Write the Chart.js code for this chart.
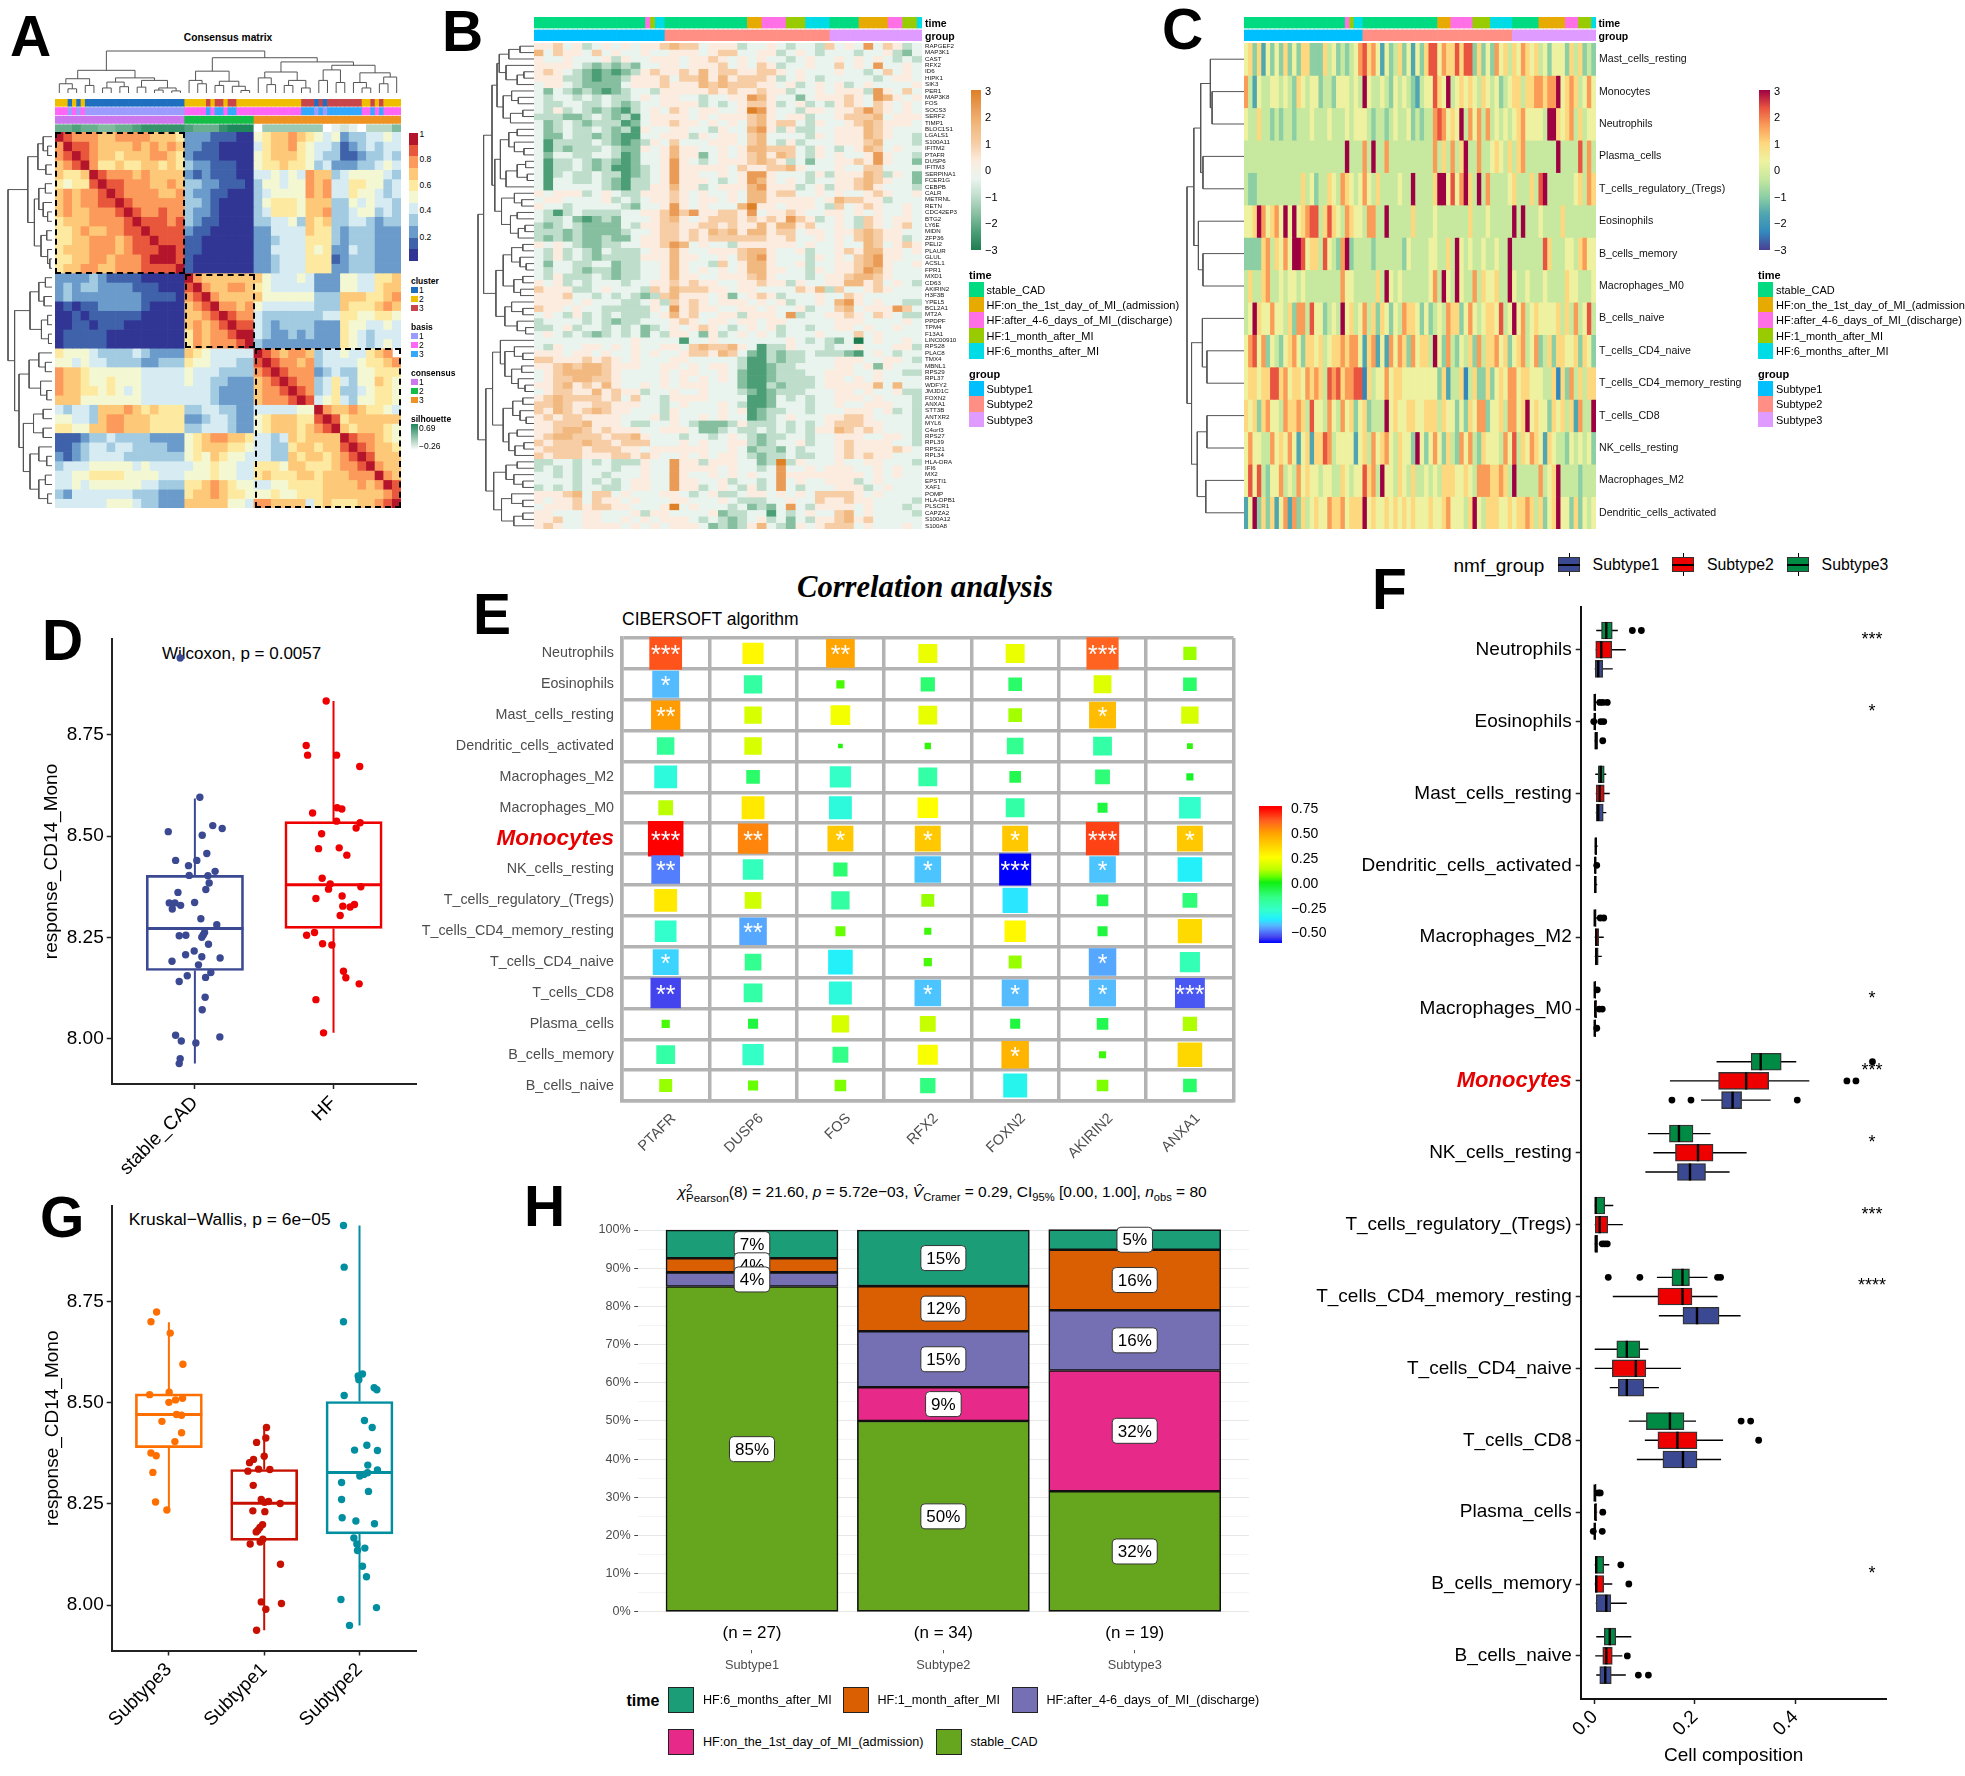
<!DOCTYPE html>
<html>
<head>
<meta charset="utf-8">
<title>Multi panel figure</title>
<script src="https://cdn.jsdelivr.net/npm/chart.js@4"></script>
<style>
html, body { margin: 0; padding: 0; background: #fff; width: 1965px; height: 1776px; overflow: hidden; }
#page { position: relative; width: 1965px; height: 1776px; font-family: "Liberation Sans", Arial, sans-serif; color: #000; }
#page canvas { position: absolute; }
.t { position: absolute; white-space: nowrap; transform: translateY(-50%); line-height: 1; }
.s { position: absolute; }
sub, sup { font-size: 72%; line-height: 0; }
</style>
</head>
<body>
<div id="page"></div>
<script>
// ---------- shared categories ----------
const timeNames = ['stable_CAD', 'HF:on_the_1st_day_of_MI_(admission)', 'HF:after_4-6_days_of_MI_(discharge)', 'HF:1_month_after_MI', 'HF:6_months_after_MI'];
const groupNames = ['Subtype1', 'Subtype2', 'Subtype3'];

// ---------- panel A: consensus matrix, one digit per cell ----------
const consensusRows = [
  'a98887788887776 22211100 56778765452334454',
  '8a9987777878787 22110000 46778654431234344',
  '89a987767778876 21110000 56777654331123343',
  '789a86676677676 32211100 56676653422233454',
  '7667a9888787777 21211100 44545487734555543',
  '65669a998887787 33221110 35545587844665534',
  '787889a98888778 32211000 34555587844655434',
  '7878899a9888888 33210000 35666577733545443',
  '78778889a988988 32210000 34666577833455343',
  '677788889a99989 32110000 33445376733443233',
  '6678778899a9999 21100000 22444476632333222',
  '66778887899a999 11000000 22344466632333222',
  '677788878999aa9 11000000 22444465622433222',
  '66778878889aaa9 10000000 22344466612333222',
  '67788778889999a 10000000 22344466622333222',
  '222232111100000 a8777777 75444542225544667',
  '232332222111000 9a877887 65444442225544677',
  '232222222211110 89a87777 75555553337776678',
  '010112222210000 789a8878 54444443337666787',
  '001011111100000 7789a988 43333333446655665',
  '001101110000000 78789a99 43233332226554454',
  '011111000000000 687889aa 43223232226543444',
  '011111000000000 6878889a 32222222226543454',
  '655543333432222 76544444 a987887344544678',
  '554544333322333 65544433 9a9887834444 56678',
  '877655555544444 54443333 89a988823433 55666',
  '877655655544444 54433222 789a98834643 55765',
  '877665654544444 44432222 7889a9834633 45665',
  '777555555544444 44432222 78889a945643 55665',
  '434437778767666 33443322 4444455a8778 76654',
  '554437887776666 22344322 56777669a967 77777',
  '665577887776666 33444322 567776789a76 77765',
  '111233433332222 56788776 44347677 77a98 8765',
  '112344344333322 56777665 44336776 779a9 8776',
  '212344443333333 56576554 44337677 6789a 9777',
  '344455555454444 45565544 66657766 67889 a877',
  '445566665555444 55565544 67666776 77788 8a87',
  '445455555544333 66787655 44556666 77778 78a9',
  '324444444333222 67787665 55655666 77777 7789a',
  '444444555433222 77777554 88777746 76667 789a'
];
const consensusColours = ['#313695', '#3F62AB', '#6A9BCB', '#A2CBE2', '#D6EBF2', '#F4F8D2', '#FEE9A0', '#FDC878', '#FB9A5A', '#E8573C', '#B5152A'];
const clusterRuns = [3, 1, 1, 1, 1, 23, 5, 1, 1, 2, 1, 2, 15, 3, 1, 1, 1, 8, 2, 1, 1, 1, 4];
const clusterOrder = [1, 0, 1, 0, 1, 0, 1, 2, 1, 2, 1, 2, 1, 2, 0, 2, 0, 2, 1, 2, 1, 2, 1];
const clusterColours = ['#1F6FC0', '#EFBE00', '#C8464A'];
const basisColours = ['#9C9CFF', '#FF66F5', '#33A8FF'];
const consensusRuns = [30, 16, 34];
const consensusTrackColours = ['#CC77EE', '#14BE46', '#EE9322'];
const silhouetteCells = '667665566788888 76668999 04444444012103335';
const silhouetteColours = ['#FFFFFF', '#E6F0EA', '#CFE3D9', '#B6D6C6', '#9CC9B3', '#80BBA0', '#68AE8F', '#4FA07D', '#36926B', '#1E875C'];
const consensusTicks = ['1', '0.8', '0.6', '0.4', '0.2'];

// dendrograms as nested merges: [height, left, right], 0 is a leaf
const consensusTopLeft = [.54, [.34, [.22, 0, [.1, 0, 0]], [.18, 0, 0]], [.36, [.26, [.12, 0, 0], [.15, 0, 0]], [.3, [.14, 0, 0], [.12, [.07, 0, 0], [.05, 0, 0]]]]];
const consensusTopMid = [.52, [.3, 0, [.22, 0, 0]], [.28, [.18, 0, 0], [.16, 0, [.06, 0, 0]]]];
const consensusTopRight = [.74, [.5, [.36, 0, [.2, 0, 0]], [.3, [.18, 0, 0], [.12, 0, 0]]], [.66, [.55, [.3, 0, 0], [.25, 0, 0]], [.48, [.25, 0, [.12, 0, 0]], [.38, [.22, 0, 0], 0]]]];
const consensusTopTree = [1, consensusTopLeft, [.84, consensusTopMid, consensusTopRight]];
const consensusSide1 = [.55, [.32, [.2, 0, [.1, 0, 0]], [.14, 0, 0]], [.4, [.3, [.15, 0, 0], [.2, 0, [.1, 0, 0]]], [.25, [.12, 0, 0], [.1, 0, [.05, 0, 0]]]]];
const consensusSide2 = [.5, [.3, [.15, 0, 0], [.18, 0, 0]], [.24, [.1, 0, 0], [.08, 0, 0]]];
const consensusSide3 = [.75, [.52, [.3, 0, [.15, 0, 0]], [.26, 0, [.12, 0, 0]]], [.65, [.42, [.2, 0, 0], [.2, 0, 0]], [.5, [.3, 0, [.12, 0, 0]], [.3, [.15, 0, 0], [.1, 0, 0]]]]];
const consensusSideTree = [1, consensusSide1, [.85, consensusSide2, consensusSide3]];

// ---------- panels B and C: annotation tracks ----------
const timeRuns = [23, 1, 1, 2, 17, 3, 5, 4, 5, 6, 6, 3, 3, 1];
const timeRunKinds = [0, 2, 3, 4, 0, 1, 2, 3, 4, 0, 1, 2, 3, 4];
const groupRuns = [27, 34, 19];
const timeColours = ['#00DB82', '#E6AA00', '#FF6FE6', '#99CC00', '#00DCE6'];
const groupColours = ['#00BFFF', '#FF8F84', '#DF9BFF'];

// ---------- panel B: expression heatmap, one digit per cell ----------
const geneNames = ['RAPGEF2', 'MAP3K1', 'CAST', 'RFX2', 'ID6', 'HIPK1', 'SIK3', 'PER1', 'MAP3K8', 'FOS', 'SOCS3', 'SERF2', 'TIMP1', 'BLOC1S1', 'LGALS1', 'S100A11', 'IFITM2', 'PTAFR', 'DUSP6', 'IFITM3', 'SERPINA1', 'FCER1G', 'CEBPB', 'CALR', 'METRNL', 'RETN', 'CDC42EP3', 'BTG2', 'LY6E', 'MIDN', 'ZFP36', 'PELI2', 'PLAUR', 'GLUL', 'ACSL1', 'FPR1', 'MXD1', 'CD63', 'AKIRIN2', 'H3F3B', 'YPEL5', 'BCL2A1', 'MT2A', 'PPDPF', 'TPM4', 'F13A1', 'LINC00910', 'RPS28', 'PLAC8', 'TMX4', 'MBNL1', 'RPS29', 'RPL37', 'WDFY2', 'JMJD1C', 'FOXN2', 'ANXA1', 'STT3B', 'ANTXR2', 'MYL6', 'C4orf3', 'RPS27', 'RPL39', 'RPS21', 'RPL34', 'HLA-DRA', 'IFI6', 'MX2', 'EPSTI1', 'XAF1', 'POMP', 'HLA-DPB1', 'PLSCR1', 'CAPZA2', 'S100A12', 'S100A8'];
const expressionRows = [
  '55645345454556 76645553445434436 454846534',
  '74655464544544 55545664455345434 443445324',
  '54454445354455 54556545454434544 545454343',
  '55554323232445 54555645465344544 645484454',
  '56543212123565 56575665566545444 544346454',
  '55533212235556 46675756665345434 444434554',
  '45543222245556 55576766655453454 534544445',
  '42432321234435 55556565565534454 555385464',
  '43443434334545 54434455875442455 565487545',
  '43344334323445 55534345665345343 565465454',
  '43534323213454 65455445985443554 556865454',
  '33322343231455 55454555675455344 566674555',
  '42343233312455 65545454675664354 456765554',
  '42343343231544 55443544785353344 555765444',
  '42243323211445 55354554674444354 555765443',
  '41333343212354 64445554674353444 555674443',
  '41323334322545 75544545776664354 345764544',
  '42443344312445 75524545675764354 544585443',
  '41334323212445 85434555676534244 556585442',
  '41334323112345 85555546556675444 544664444',
  '41343343312345 85544545885444353 555763542',
  '41443343213345 85554345875454344 556765442',
  '41444443213355 75534555785553453 556754443',
  '54555345433555 65454454775664454 544565445',
  '45544445343455 65455454775555545 766553444',
  '54434444432445 85454447955455543 645654454',
  '43134333344556 86855665845565445 545454454',
  '43342123244456 75456665656586534 543654554',
  '32343222243556 65566565575775644 543654564',
  '33323222234456 65657675775664554 556765544',
  '32323223224556 65656666665564454 546765534',
  '54543223344556 87454435555554544 544764565',
  '43534324333455 75445556775445344 565775545',
  '43534323333555 75544546785444354 546785544',
  '42443344233445 75443645775445344 556785445',
  '43443233233445 75454545775544354 556875444',
  '43533343233445 75544555675444345 567765444',
  '54534344434455 65655445565535445 577564543',
  '65553345444365 76665545544446573 644565444',
  '55564434343236 75554524565344454 465444444',
  '55554544433453 65654555454534454 785454433',
  '65545443333354 85655445545445344 674555864',
  '45435343433345 75644553555483445 565465433',
  '34444343233444 56545545545544444 555444454',
  '33453443434234 54565434545344344 554544544',
  '45434323434243 55425345454344454 446454444',
  '44444444445444 41445444444454343 240454454',
  '43544554545445 54676675413354443 445444553',
  '55545545445454 45665764213233433 321454344',
  '66555656545444 55444443113233444 555445543',
  '55676776555445 54545543112334444 554525444',
  '45677776544445 45544542112333445 554454433',
  '45667766544445 45454542112333345 545454444',
  '55675657544545 45554442113233345 555574744',
  '45665575655344 54454443212333444 554544533',
  '56766665646443 55554444112434344 555454443',
  '66765566555443 45444543112444344 544555443',
  '65765676554443 54444545123344344 455545343',
  '56566555544453 54454544123454445 566544443',
  '55666755543344 54322235333434345 666554443',
  '55677656555445 55422343343434355 765654443',
  '56776665667544 43443454323344344 555445543',
  '65666766566644 45454455323445344 565555443',
  '56666566655455 55554454233243444 565555654',
  '65666555665654 45454554323343344 565655444',
  '33443434333544 85535554423935444 544554443',
  '34343444344544 85555454434844545 554454544',
  '44343443444544 85445454544855555 555454544',
  '44443434345544 85544534434845445 553454444',
  '34343443345544 85534543534843444 555345444',
  '55567466454445 54345334554545466 665454444',
  '54556465545444 55444543334454465 565544443',
  '45556566554445 94544434232484355 554544434',
  '55444554445355 44445233441434544 674544443',
  '55644554454545 55434323453424355 675644444',
  '56544555545454 55542323574325456 664544454'
];
const expressionColours = ['#1E7D50', '#4C9E76', '#86BFA0', '#BEDDCB', '#EAF4EE', '#FBECDF', '#F6CDA4', '#F1B97F', '#EA9C57', '#DD8026'];
const expressionTicks = ['3', '2', '1', '0', '\u22121', '\u22122', '\u22123'];
const expressionTree1 = [.62, [.45, [.25, 0, 0], 0], [.5, 0, [.3, [.18, 0, 0], 0]]];
const expressionTree2 = [.55, [.4, 0, [.28, 0, 0]], [.42, [.2, 0, 0], 0]];
const expressionTree3 = [.6, [.45, [.3, 0, 0], [.35, 0, [.18, 0, 0]]], [.5, [.3, [.15, 0, 0], [.12, 0, 0]], 0]];
const expressionTree4 = [.58, [.35, 0, [.22, 0, 0]], [.42, [.3, 0, 0], [.28, [.16, 0, 0], 0]]];
const expressionTree5 = [.68, [.55, [.4, [.2, 0, 0], [.25, 0, [.14, 0, 0]]], [.36, [.2, 0, 0], [.24, 0, 0]]], [.52, [.4, 0, [.2, 0, 0]], [.3, 0, [.15, 0, 0]]]];
const expressionTree6 = [.74, [.6, 0, [.52, [.35, 0, [.2, 0, 0]], [.4, [.22, 0, 0], [.28, 0, [.16, 0, 0]]]]], [.55, [.38, [.2, 0, 0], [.25, 0, [.14, 0, 0]]], [.45, [.3, 0, 0], [.34, [.18, 0, 0], 0]]]];
const expressionTree7 = [.72, [.5, [.3, 0, 0], [.36, 0, [.2, 0, 0]]], [.58, [.4, 0, [.2, 0, 0]], [.36, [.2, 0, 0], 0]]];
const expressionTree = [1, [.9, [.75, [.66, expressionTree1, expressionTree2], [.7, expressionTree3, expressionTree4]], expressionTree5], [.86, expressionTree6, expressionTree7]];

// ---------- panel C: immune cell heatmap, one digit per sample ----------
const immuneCells = ['Mast_cells_resting', 'Monocytes', 'Neutrophils', 'Plasma_cells', 'T_cells_regulatory_(Tregs)', 'Eosinophils', 'B_cells_memory', 'Macrophages_M0', 'B_cells_naive', 'T_cells_CD4_naive', 'T_cells_CD4_memory_resting', 'T_cells_CD8', 'NK_cells_resting', 'Macrophages_M2', 'Dendritic_cells_activated'];
const immuneRows = [
  '56362535 36353663 33645343 45786752 53463525 36885766 86883635 37564657 65645355 53646343',
  '74254455 45436545 53443555 45495445 43545432 45586594 56565465 45345664 66776779 56764575',
  '54464434 34434445 44454445 45554344 34544534 34478756 59475747 45454567 55554996 56746455',
  '44444444 44444444 44444449 44474944 74444444 44474647 46944744 56546467 44444449 44448474',
  '43344444 44444645 34465476 54575464 44454494 44469958 57964947 44445644 46489444 44456476',
  '55697567 59595678 84686547 65547744 94444464 44454444 44464445 44444949 44454444 64444444',
  '33336746 57599856 64854379 34444344 44443544 44554464 95454454 45449444 44448644 45546755',
  '46446744 54554544 44444475 54444464 95454444 44574954 95447465 56449544 54445444 46554445',
  '45965575 54637748 55345495 64574636 53547665 35345476 63575456 65845957 45655556 46474584',
  '57857354 35675366 56456676 77526725 27576375 66495374 35463746 67563567 45734636 65563653',
  '56656688 67566576 76487867 78816455 75665555 55553624 46146336 35657756 65554461 63746466',
  '65636755 47667648 55475475 63563444 95655665 56664655 35365773 55647756 95655365 64627449',
  '57554475 65752562 66874555 52564756 75465539 53575364 37574365 55475846 57652654 43545453',
  '58584355 74547565 54554465 45586749 55465464 45454666 55654777 66764944 44474569 44443444',
  '25936362 57273645 65576675 66695655 65656565 55655675 55469546 66556566 76463569 55363545'
];
const immuneColours = ['#4B3F92', '#3288BD', '#4FA5B0', '#8CCFA4', '#C7E89F', '#EEF2A0', '#FDD87F', '#FA9C58', '#E8543F', '#9E0142'];
const immuneTree = [1, [.88, [.76, [.59, 0, [.56, 0, 0]], [.72, 0, 0]], [.8, 0, [.72, 0, 0]]], [.92, [.73, 0, [.65, 0, 0]], [.82, [.65, 0, 0], [.67, 0, 0]]]];

// ---------- panel D ----------
const dCats = ['stable_CAD', 'HF'];
const dStableX = [.894, 1.036, .808, 1.053, 1.129, 1.197, .861, 1.014, 1.086, .954, .959, 1.094, 1.146, 1.103, 1.079, .878, .815, .856, .897, .837, .998, 1.043, 1.158, .887, .935, 1.07, 1.06, 1.05, 1.098, .995, .933, 1.05, 1.182, .835, 1.026, 1.115, 1.077, .945, .887, 1.074, 1.053, .861, .902, 1.007, 1.18, .894, .887];
const dStableY = [8.94, 8.596, 8.511, 8.502, 8.526, 8.519, 8.44, 8.44, 8.457, 8.427, 8.403, 8.402, 8.413, 8.384, 8.368, 8.361, 8.335, 8.335, 8.329, 8.32, 8.336, 8.296, 8.281, 8.254, 8.255, 8.262, 8.256, 8.25, 8.233, 8.216, 8.207, 8.202, 8.199, 8.191, 8.182, 8.163, 8.151, 8.155, 8.141, 8.102, 8.071, 8.008, 7.994, 7.989, 8.004, 7.95, 7.938];
const dHfX = [1.947, 1.803, 1.813, 2.022, 2.189, 1.849, 2.026, 2.06, 2.022, 2.192, 2.163, 1.914, 1.892, 2.041, 2.096, 1.918, 1.976, 1.964, 2.197, 1.873, 2.062, 2.067, 2.12, 2.151, 2.048, 1.806, 1.863, 1.921, 1.988, 2.072, 2.089, 2.185, 1.873, 1.928];
const dHfY = [8.834, 8.724, 8.7, 8.7, 8.672, 8.557, 8.57, 8.567, 8.537, 8.533, 8.52, 8.506, 8.469, 8.471, 8.453, 8.396, 8.382, 8.369, 8.375, 8.346, 8.352, 8.327, 8.325, 8.331, 8.304, 8.255, 8.262, 8.234, 8.231, 8.166, 8.15, 8.135, 8.096, 8.014];
const dStableBox = [7.938, 8.168, 8.272, 8.403, 8.593];
const dHfBox = [8.014, 8.272, 8.38, 8.536, 8.834];
const responseTicks = [8, 8.25, 8.5, 8.75];

// ---------- panel G ----------
const gCats = ['Subtype3', 'Subtype1', 'Subtype2'];
const gS3X = [.871, .812, 1.014, 1.147, .798, 1.003, 1, 1.07, 1.143, 1.08, 1.133, .927, 1.133, 1.063, .812, .867, .832, .86, .979];
const gS3Y = [8.724, 8.7, 8.672, 8.595, 8.52, 8.526, 8.501, 8.507, 8.511, 8.471, 8.469, 8.454, 8.426, 8.404, 8.376, 8.369, 8.328, 8.255, 8.235];
const gS1X = [2.024, 2.017, 1.92, 2, 1.888, 1.846, 1.829, 1.941, 2.059, 1.885, 1.969, 2.003, 2.045, 2.168, 1.881, 2.007, 1.983, 1.955, 1.934, 1.916, 1.986, 1.958, 1.853, 2.171, 1.969, 2.181, 2.017, 1.92];
const gS1Y = [8.439, 8.413, 8.402, 8.368, 8.36, 8.352, 8.331, 8.336, 8.335, 8.296, 8.261, 8.254, 8.256, 8.251, 8.233, 8.231, 8.199, 8.192, 8.185, 8.181, 8.163, 8.156, 8.151, 8.101, 8.008, 8.004, 7.99, 7.938];
const gS2X = [2.832, 2.839, 2.832, 3.031, 2.986, 2.993, 3.154, 3.182, 2.839, 3.052, 3.133, 3.077, 2.948, 3.188, 3.087, 3.188, 3.084, 3.045, 3.003, 2.812, 3.094, 2.812, 2.818, 2.962, 3.157, 2.941, 2.972, 3.056, 2.979, 3.031, 3.073, 2.805, 3.178, 2.895];
const gS2Y = [8.938, 8.835, 8.7, 8.571, 8.566, 8.557, 8.537, 8.532, 8.518, 8.456, 8.439, 8.395, 8.383, 8.382, 8.346, 8.334, 8.327, 8.323, 8.319, 8.303, 8.281, 8.261, 8.216, 8.208, 8.201, 8.166, 8.151, 8.141, 8.135, 8.096, 8.07, 8.014, 7.994, 7.95];
const gS3Box = [8.235, 8.389, 8.471, 8.522, 8.699];
const gS1Box = [7.938, 8.16, 8.252, 8.335, 8.439];
const gS2Box = [7.95, 8.176, 8.328, 8.503, 8.938];

// ---------- panel E ----------
const eGenes = ['PTAFR', 'DUSP6', 'FOS', 'RFX2', 'FOXN2', 'AKIRIN2', 'ANXA1'];
const eCells = ['Neutrophils', 'Eosinophils', 'Mast_cells_resting', 'Dendritic_cells_activated', 'Macrophages_M2', 'Macrophages_M0', 'Monocytes', 'NK_cells_resting', 'T_cells_regulatory_(Tregs)', 'T_cells_CD4_memory_resting', 'T_cells_CD4_naive', 'T_cells_CD8', 'Plasma_cells', 'B_cells_memory', 'B_cells_naive'];
const eValues = [
  [.637, .268, .49, .214, .214, .615, .104],
  [-.43, -.2, .04, -.12, -.11, .19, -.11],
  [.51, .18, .23, .21, .11, .43, .18],
  [-.18, .18, .013, .024, -.165, -.21, .02],
  [-.31, -.11, -.27, -.21, -.08, -.13, -.03],
  [.13, .31, -.31, .25, -.21, -.06, -.28],
  [.75, .55, .4, .4, .4, .66, .4],
  [-.49, -.25, -.12, -.42, -.61, -.42, -.36],
  [.31, .165, -.2, .1, -.38, -.08, -.13],
  [-.28, -.45, .06, .03, .27, -.06, .35],
  [-.4, -.165, -.36, .04, .1, -.45, -.24],
  [-.55, -.21, -.31, -.42, -.43, -.43, -.53],
  [.04, -.06, .18, .15, -.06, -.08, .12],
  [-.21, -.27, -.15, .24, .45, .03, .36],
  [.1, .06, .08, -.14, -.34, .08, -.11]
];
const eStars = [
  ['***', '', '**', '', '', '***', ''],
  ['*', '', '', '', '', '', ''],
  ['**', '', '', '', '', '*', ''],
  ['', '', '', '', '', '', ''],
  ['', '', '', '', '', '', ''],
  ['', '', '', '', '', '', ''],
  ['***', '**', '*', '*', '*', '***', '*'],
  ['**', '', '', '*', '***', '*', ''],
  ['', '', '', '', '', '', ''],
  ['', '**', '', '', '', '', ''],
  ['*', '', '', '', '', '*', ''],
  ['**', '', '', '*', '*', '*', '***'],
  ['', '', '', '', '', '', ''],
  ['', '', '', '', '*', '', ''],
  ['', '', '', '', '', '', '']
];
const eStops = [-.61, -.55, -.48, -.43, -.37, -.28, -.15, 0, .06, .13, .25, .4, .5, .62, .75];
const eStopColours = ['#0000FF', '#4444EE', '#5588FF', '#55BBFF', '#22EEFF', '#33FFCC', '#33FF88', '#10F010', '#66FF00', '#BBFF00', '#FFFF00', '#FFC800', '#FFA000', '#FF6020', '#FF0000'];
const eBarTicks = ['0.75', '0.50', '0.25', '0.00', '\u22120.25', '\u22120.50'];

// ---------- panel F: [low whisker, q1, median, q3, high whisker] per cell type ----------
const fCells = ['Neutrophils', 'Eosinophils', 'Mast_cells_resting', 'Dendritic_cells_activated', 'Macrophages_M2', 'Macrophages_M0', 'Monocytes', 'NK_cells_resting', 'T_cells_regulatory_(Tregs)', 'T_cells_CD4_memory_resting', 'T_cells_CD4_naive', 'T_cells_CD8', 'Plasma_cells', 'B_cells_memory', 'B_cells_naive'];
const fSubtype3 = [[.003, .0135, .023, .035, .046], [0, 0, 0, .002, .005], [.001, .007, .012, .019, .023], [0, 0, .002, .004, .006], [0, 0, 0, .003, .005], [0, 0, 0, .002, .003], [.243, .312, .331, .372, .402], [.106, .149, .168, .196, .231], [0, 0, .002, .02, .037], [.124, .154, .175, .189, .225], [0, .044, .064, .09, .107], [.068, .103, .15, .178, .202], [0, 0, 0, .003, .004], [0, 0, .003, .018, .029], [.003, .019, .03, .042, .073]];
const fSubtype2 = [[.002, .002, .013, .034, .062], [0, 0, 0, .002, .003], [.002, .003, .01, .019, .03], [0, 0, .001, .002, .004], [0, 0, .003, .008, .018], [0, 0, .001, .004, .005], [.15, .247, .302, .347, .428], [.117, .161, .206, .236, .303], [0, 0, .01, .026, .056], [.036, .126, .175, .194, .245], [0, .035, .082, .102, .172], [.1, .126, .165, .204, .256], [0, 0, .001, .004, .005], [0, 0, .003, .018, .035], [.001, .016, .023, .035, .055]];
const fSubtype1 = [[0, 0, .007, .016, .036], [0, 0, .002, .006, .006], [.002, .003, .007, .017, .023], [0, 0, .001, .003, .005], [0, 0, .003, .007, .014], [0, 0, 0, .002, .003], [.212, .253, .275, .293, .351], [.101, .165, .19, .221, .269], [0, 0, .002, .006, .007], [.128, .176, .204, .248, .291], [.03, .047, .064, .098, .128], [.084, .136, .176, .204, .252], [0, 0, 0, .001, .003], [.002, .003, .023, .032, .064], [.003, .01, .021, .033, .062]];
const fOut3 = [[.075, .093], [.01, .016, .025], [], [], [.011, .018], [.005], [.554], [], [], [.027, .09, .245, .251], [], [.292, .311], [.007, .011], [.052], []];
const fOut2 = [[], [-.002, .012, .018], [], [.004], [], [.009, .015], [.503, .521], [], [], [], [], [.327], [.016], [.068], [.065]];
const fOut1 = [[], [.016], [], [], [], [.004], [.154, .192, .404], [], [.015, .02, .025], [], [], [], [-.003, .015], [], [.087, .107]];
const fStars = ['***', '*', '', '', '', '*', '***', '*', '***', '****', '', '', '', '*', ''];
const fTicks = [0, .2, .4];

// ---------- panel H: share of samples in each time group, in percent ----------
const hSubtypes = ['Subtype1', 'Subtype2', 'Subtype3'];
const hCounts = ['(n = 27)', '(n = 34)', '(n = 19)'];
const hStable = [85.2, 50, 31.6];
const hAdmission = [0, 8.8, 31.6];
const hDischarge = [3.7, 14.7, 15.8];
const hMonth1 = [3.7, 11.8, 15.8];
const hMonth6 = [7.4, 14.7, 5.3];

// ---------- helpers ----------
Chart.defaults.font.family = '"Liberation Sans", Arial, sans-serif';
Chart.defaults.animation = false;
Chart.defaults.responsive = false;
Chart.defaults.devicePixelRatio = 1;
Chart.defaults.plugins.legend.display = false;
Chart.defaults.plugins.tooltip.enabled = false;

const page = document.getElementById('page');

function mount(x, y, w, h) {
  const c = document.createElement('canvas');
  c.width = w; c.height = h;
  c.style.left = x + 'px'; c.style.top = y + 'px';
  c.style.width = w + 'px'; c.style.height = h + 'px';
  page.appendChild(c);
  return c.getContext('2d');
}

function text(str, x, y, size, extra) {
  const d = document.createElement('div');
  d.className = 't';
  d.style.left = x + 'px'; d.style.top = y + 'px'; d.style.fontSize = size + 'px';
  Object.assign(d.style, extra || {});
  d.innerHTML = str;
  page.appendChild(d);
  return d;
}

function swatch(x, y, w, h, colour, extra) {
  const d = document.createElement('div');
  d.className = 's';
  d.style.cssText += `left:${x}px;top:${y}px;width:${w}px;height:${h}px;background:${colour}`;
  Object.assign(d.style, extra || {});
  page.appendChild(d);
  return d;
}

const digits = s => s.replace(/ /g, '').split('').map(ch => parseInt(ch, 16));
const repeatRuns = (runs, kinds) => runs.flatMap((n, i) => Array(n).fill(kinds ? kinds[i] : i));

// Fixed axis size, and no extra margin for labels hanging over the plot area
function fixAxis(s, dims) {
  Object.assign(s, dims);
  s.paddingTop = s.paddingBottom = s.paddingLeft = s.paddingRight = 0;
}

// One floating bar per cell: every row is a dataset, the colours come per column
function heat(x, y, w, h, rows, opts) {
  const o = Object.assign({ width: 0, band: 1, max: rows.length, size: 8, padding: 0 }, opts);
  const labels = rows[0].map((_, i) => i);
  const fullW = Math.ceil(w + o.width);
  new Chart(mount(x, y, fullW, h), {
    type: 'bar',
    data: {
      labels,
      datasets: rows.map((cols, r) => ({
        data: cols.map(() => [r, r + o.band]),
        backgroundColor: cols,
        barPercentage: 1, categoryPercentage: 1, grouped: false, borderWidth: 0
      }))
    },
    options: {
      layout: { autoPadding: false, padding: { right: fullW - w - o.width } },
      scales: {
        x: { display: false },
        y: {
          display: !!o.names, position: 'right', reverse: true, min: 0, max: o.max,
          grid: { display: false, drawTicks: false }, border: { display: false },
          afterFit: s => fixAxis(s, { width: o.width }),
          afterBuildTicks: s => { if (o.names) s.ticks = o.names.map((_, i) => ({ value: i + .5 })); },
          ticks: {
            autoSkip: false, padding: o.padding, color: '#111', font: { size: o.size },
            callback: v => o.names ? o.names[Math.round(v - .5)] : ''
          }
        }
      }
    }
  });
}

// Walk a nested merge tree and return line segments in data units, null breaks the line
function treeLines(tree, side) {
  const pts = [];
  let leaf = 0;
  const add = (p, h, p2, h2) => {
    if (side === 'top') pts.push({ x: p, y: h }, { x: p2, y: h2 }, { x: null, y: null });
    else pts.push({ x: h, y: p }, { x: h2, y: p2 }, { x: null, y: null });
  };
  const walk = node => {
    if (node === 0) { leaf += 1; return { p: leaf - .5, h: 0 }; }
    const a = walk(node[1]);
    const b = walk(node[2]);
    add(a.p, a.h, a.p, node[0]);
    add(b.p, b.h, b.p, node[0]);
    add(a.p, node[0], b.p, node[0]);
    return { p: (a.p + b.p) / 2, h: node[0] };
  };
  walk(tree);
  return { pts, n: leaf };
}

function dendrogram(x, y, w, h, tree, side) {
  const { pts, n } = treeLines(tree, side);
  const top = side === 'top';
  new Chart(mount(x - 1, y - 1, w + 2, h + 2), {
    type: 'scatter',
    data: { datasets: [{ data: pts, showLine: true, spanGaps: false, pointRadius: 0, borderColor: '#555', borderWidth: 1, clip: false }] },
    options: {
      layout: { autoPadding: false, padding: 1 },
      scales: {
        x: { display: false, min: 0, max: top ? n : 1, reverse: !top },
        y: { display: false, min: 0, max: top ? 1 : n, reverse: !top }
      }
    }
  });
}

// CSS colour bar, colours run from top to bottom; hard gives discrete steps, positions are percentages
function colourBar(x, y, w, h, colours, hard, positions) {
  let stops = colours.map((c, i) => positions ? `${c} ${positions[i]}%` : c).join(',');
  if (hard) stops = colours.map((c, i) => `${c} ${i / colours.length * 100}% ${(i + 1) / colours.length * 100}%`).join(',');
  swatch(x, y, w, h, `linear-gradient(to bottom, ${stops})`);
}

function legendList(x, ys, boxX, boxW, boxH, names, colours, size) {
  names.forEach((name, i) => {
    swatch(boxX, ys[i] - boxH / 2, boxW, boxH, colours[i]);
    text(name, x, ys[i], size);
  });
}

// Jitter box plot shared by panels D and G
function jitterBox(o) {
  const ds = [];
  o.series.forEach((s, i) => {
    ds.push({ type: 'scatter', data: s.xs.map((vx, k) => ({ x: vx, y: s.ys[k] })), pointRadius: 3.7, pointBackgroundColor: o.colours[i], pointBorderWidth: 0 });
  });
  o.series.forEach((s, i) => {
    const cat = i + 1, [lo, q1, med, q3, hi] = s.box;
    ds.push({ type: 'scatter', showLine: true, pointRadius: 0, borderColor: o.colours[i], borderWidth: 3, data: [{ x: cat - .35, y: med }, { x: cat + .35, y: med }] });
    ds.push({
      type: 'scatter', showLine: true, spanGaps: false, pointRadius: 0, borderColor: o.colours[i], borderWidth: 2,
      data: [{ x: cat, y: lo }, { x: cat, y: q1 }, { x: null, y: null }, { x: cat, y: q3 }, { x: cat, y: hi }]
    });
    ds.push({ type: 'bar', data: [{ x: cat, y: [q1, q3] }], barThickness: o.boxPx, grouped: false, backgroundColor: 'rgba(255,255,255,0)', borderColor: o.colours[i], borderWidth: 2, borderSkipped: false });
  });
  new Chart(mount(o.x, o.y, o.w, o.h), {
    type: 'scatter',
    data: { datasets: ds },
    options: {
      layout: { autoPadding: false, padding: { top: o.padTop, right: o.padRight } },
      scales: {
        x: {
          type: 'linear', min: o.xMin, max: o.xMax, offset: false,
          grid: { drawOnChartArea: false, offset: false, tickLength: 5, color: '#222', tickWidth: 1.5 },
          border: { color: '#222', width: 2 },
          afterFit: s => fixAxis(s, { height: o.axisH }),
          afterBuildTicks: s => { s.ticks = o.cats.map((_, i) => ({ value: i + 1 })); },
          ticks: { autoSkip: false, minRotation: 45, maxRotation: 45, color: '#000', font: { size: 19 }, padding: 3, callback: v => o.cats[v - 1] }
        },
        y: {
          min: o.yMin, max: o.yMax,
          title: { display: true, text: 'response_CD14_Mono', color: '#000', font: { size: 19 }, padding: 0 },
          grid: { drawOnChartArea: false, tickLength: 5, color: '#222', tickWidth: 1.5 },
          border: { color: '#222', width: 2 },
          afterFit: s => fixAxis(s, { width: o.axisW }),
          afterBuildTicks: s => { s.ticks = responseTicks.map(v => ({ value: v })); },
          ticks: { color: '#000', font: { size: 19 }, padding: 3, callback: v => v.toFixed(2) }
        }
      }
    }
  });
}

// ---------- panel letters ----------
const letters = [['A', 10, 36], ['B', 442, 31], ['C', 1162, 29], ['D', 42, 640], ['E', 473, 614], ['F', 1372, 589], ['G', 40, 1217], ['H', 524, 1206]];
letters.forEach(l => text(l[0], l[1], l[2], 57, { fontWeight: 'bold' }));

// ---------- panel A ----------
text('Consensus matrix', 228, 38, 10.2, { fontWeight: 'bold', transform: 'translate(-50%,-50%)' });
dendrogram(55, 51, 346, 42, consensusTopTree, 'top');
dendrogram(8, 132, 44, 376, consensusSideTree, 'left');
const clusterKinds = repeatRuns(clusterRuns, clusterOrder);
const silhouetteWide = digits(silhouetteCells).flatMap(v => [v, v]);
heat(55, 99, 346, 33, [
  clusterKinds.map(k => clusterColours[k]),
  clusterKinds.map(k => basisColours[k]),
  repeatRuns(consensusRuns).map(k => consensusTrackColours[k]),
  silhouetteWide.map(v => silhouetteColours[v])
], { band: .85, max: 3.85 });
heat(55, 132, 346, 376, consensusRows.map(r => digits(r).map(v => consensusColours[v])));
// dashed outlines around the three clusters
[[55, 132, 130, 142], [185, 274, 69.5, 74], [254.5, 348, 146.5, 160]].forEach(b => {
  swatch(b[0], b[1], b[2], b[3], 'transparent', { border: '2.4px dashed #000', boxSizing: 'border-box' });
});
colourBar(409, 132.5, 9, 128.5, consensusColours.slice().reverse(), true);
[133.5, 159, 184.6, 210, 236.6].forEach((y, i) => text(consensusTicks[i], 419.5, y, 8.5));
const legendSize = 8.5;
const legendBold = { fontWeight: 'bold' };
text('cluster', 411, 281, legendSize, legendBold);
legendList(419, [290, 299, 308], 411, 6.5, 6.5, ['1', '2', '3'], clusterColours, legendSize);
text('basis', 411, 327, legendSize, legendBold);
legendList(419, [336, 345, 354], 411, 6.5, 6.5, ['1', '2', '3'], basisColours, legendSize);
text('consensus', 411, 373, legendSize, legendBold);
legendList(419, [382, 391, 400], 411, 6.5, 6.5, ['1', '2', '3'], consensusTrackColours, legendSize);
text('silhouette', 411, 418.5, legendSize, legendBold);
colourBar(411, 424, 6.5, 26, silhouetteColours.slice().reverse());
text('0.69', 419, 428, legendSize);
text('\u22120.26', 419, 446, legendSize);

// ---------- panels B and C: annotation tracks and legends ----------
const timeTrack = repeatRuns(timeRuns, timeRunKinds).map(k => timeColours[k]);
const groupTrack = repeatRuns(groupRuns).map(k => groupColours[k]);

function tracksAndLegend(heatX, heatW, trackLabelX, legendBox, legendText, barX, barW, barLabelX, barColours) {
  heat(heatX, 16.5, heatW, 24, [timeTrack, groupTrack], { band: .85, max: 1.85 });
  text('time', trackLabelX, 22.7, 10.5, legendBold);
  text('group', trackLabelX, 35.8, 10.5, legendBold);
  colourBar(barX, 90, barW, 160, barColours);
  [91, 117, 143.6, 170, 196.6, 223, 250].forEach((y, i) => text(expressionTicks[i], barLabelX, y, 11));
  text('time', legendBox, 275, 11, legendBold);
  legendList(legendText, [290, 305, 320, 336, 351], legendBox, 15, 15.3, timeNames, timeColours, 11);
  text('group', legendBox, 374, 11, legendBold);
  legendList(legendText, [389, 404, 419.5], legendBox, 15, 15.3, groupNames, groupColours, 11);
}

// ---------- panel B ----------
dendrogram(478, 43, 56, 486, expressionTree, 'left');
heat(534, 43, 388, 486, expressionRows.map(r => digits(r).map(v => expressionColours[v])), { names: geneNames, width: 50, size: 6.2, padding: 3 });
tracksAndLegend(534, 388, 925, 969, 986.5, 970.5, 10, 985, expressionColours.slice().reverse());

// ---------- panel C ----------
dendrogram(1187, 43, 57, 486, immuneTree, 'left');
heat(1244, 43, 352, 486, immuneRows.map(r => digits(r).map(v => immuneColours[v])), { names: immuneCells, width: 165, size: 10.6, padding: 3 });
tracksAndLegend(1244, 352, 1598.5, 1758, 1776, 1759, 11, 1774, immuneColours.slice().reverse());

// ---------- panel D ----------
text('Wilcoxon, p = 0.0057', 162, 653, 17);
jitterBox({
  x: 40, y: 630, w: 380, h: 565, axisW: 71.7, axisH: 111, padTop: 9, padRight: 3.3,
  xMin: .4, xMax: 2.6, yMin: 7.8876, yMax: 8.987, boxPx: 97.3,
  cats: dCats, colours: ['#3B4992', '#EE0000'],
  series: [{ xs: dStableX, ys: dStableY, box: dStableBox }, { xs: dHfX, ys: dHfY, box: dHfBox }]
});

// ---------- panel G ----------
text('Kruskal\u2212Wallis, p = 6e\u221205', 128.7, 1219.5, 17.4);
jitterBox({
  x: 41, y: 1197, w: 380, h: 565, axisW: 70.7, axisH: 111.5, padTop: 9, padRight: 4.3,
  xMin: .4, xMax: 3.6, yMin: 7.888, yMax: 8.986, boxPx: 67,
  cats: gCats, colours: ['#FF6F00', '#C71000', '#008EA0'],
  series: [{ xs: gS3X, ys: gS3Y, box: gS3Box }, { xs: gS1X, ys: gS1Y, box: gS1Box }, { xs: gS2X, ys: gS2Y, box: gS2Box }]
});

// ---------- panel E ----------
function rampColour(v) {
  const i = eStops.findIndex(s => s >= v);
  if (i <= 0) return eStopColours[Math.max(i, 0)];
  const t = (v - eStops[i - 1]) / (eStops[i] - eStops[i - 1]);
  const mix = (a, b) => Math.round(a + (b - a) * t);
  const rgb = h => [1, 3, 5].map(k => parseInt(h.substr(k, 2), 16));
  const a = rgb(eStopColours[i - 1]), b = rgb(eStopColours[i]);
  return `rgb(${mix(a[0], b[0])},${mix(a[1], b[1])},${mix(a[2], b[2])})`;
}
text('Correlation analysis', 797, 587, 30.6, { fontFamily: '"Liberation Serif", serif', fontWeight: 'bold', fontStyle: 'italic' });
text('CIBERSOFT algorithm', 622, 619.7, 17.5);
const eCellsFlat = eCells.flatMap((cell, r) => eGenes.map((gene, c) => ({ x: gene, y: cell, v: eValues[r][c], stars: eStars[r][c] })));
new Chart(mount(410, 630, 890, 540), {
  type: 'scatter',
  data: {
    datasets: [{
      data: eCellsFlat, pointStyle: 'rect', pointBorderWidth: 0,
      // square side grows with the root of |r|, Chart.js rect radius is the half diagonal
      pointRadius: eCellsFlat.map(d => 41 * Math.sqrt(Math.abs(d.v)) / 1.414),
      pointBackgroundColor: eCellsFlat.map(d => rampColour(d.v))
    }]
  },
  options: {
    layout: { autoPadding: false, padding: { top: 8, right: 66.4 } },
    scales: {
      x: {
        type: 'category', labels: eGenes, offset: true,
        grid: { offset: true, color: '#B3B3B3', lineWidth: 3.5, drawTicks: false },
        border: { color: '#B3B3B3', width: 3.5 },
        afterFit: s => fixAxis(s, { height: 69 }),
        ticks: { autoSkip: false, minRotation: 45, maxRotation: 45, color: '#4D4D4D', font: { size: 14.5 }, padding: 9, labelOffset: 8 }
      },
      y: {
        type: 'category', labels: eCells, offset: true,
        grid: { offset: true, color: '#B3B3B3', lineWidth: 3.5, drawTicks: false },
        border: { color: '#B3B3B3', width: 3.5 },
        afterFit: s => fixAxis(s, { width: 212 }),
        ticks: {
          autoSkip: false, padding: 8,
          color: c => c.index === 6 ? '#E60000' : '#4D4D4D',
          font: c => c.index === 6 ? { size: 22.5, weight: 'bold', style: 'italic' } : { size: 14.3 }
        }
      }
    }
  },
  plugins: [{
    id: 'stars',
    afterDatasetsDraw(chart) {
      const { ctx, scales } = chart;
      ctx.save();
      ctx.fillStyle = '#fff';
      ctx.font = '25px "Liberation Sans"';
      ctx.textAlign = 'center';
      ctx.textBaseline = 'middle';
      eCellsFlat.forEach(d => {
        if (d.stars) ctx.fillText(d.stars, scales.x.getPixelForValue(eGenes.indexOf(d.x)), scales.y.getPixelForValue(eCells.indexOf(d.y)) + 3);
      });
      ctx.restore();
    }
  }]
});
colourBar(1259.4, 806, 22.6, 137, eStopColours.slice().reverse(), false, eStops.slice().reverse().map(s => (.77 - s) / 1.38 * 100));
[808, 833, 858, 882.7, 907.6, 932].forEach((y, i) => text(eBarTicks[i], 1291, y, 14));

// ---------- panel F ----------
const fSeries = [
  { rows: fSubtype3, out: fOut3, shift: -.267, colour: '#008B45' },
  { rows: fSubtype2, out: fOut2, shift: 0, colour: '#EE0000' },
  { rows: fSubtype1, out: fOut1, shift: .267, colour: '#3B4992' }
];
const fDatasets = [];
fDatasets.push({
  type: 'scatter', pointRadius: 3.4, pointBackgroundColor: '#000', pointBorderWidth: 0,
  data: fSeries.flatMap(s => s.out.flatMap((vals, i) => vals.map(v => ({ x: v, y: i + 1 + s.shift }))))
});
fDatasets.push({
  type: 'scatter', showLine: true, spanGaps: false, pointRadius: 0, borderColor: '#000', borderWidth: 2.4,
  data: fSeries.flatMap(s => s.rows.flatMap((b, i) => [{ x: b[2], y: i + 1 + s.shift - .118 }, { x: b[2], y: i + 1 + s.shift + .118 }, { x: null, y: null }]))
});
fSeries.forEach(s => {
  fDatasets.push({
    type: 'bar', indexAxis: 'y', grouped: false, barThickness: 17, backgroundColor: s.colour,
    borderColor: '#333', borderWidth: 1.4, borderSkipped: false,
    data: s.rows.map((b, i) => ({ y: i + 1 + s.shift, x: [b[1], b[3]] }))
  });
});
fDatasets.push({
  type: 'scatter', showLine: true, spanGaps: false, pointRadius: 0, borderColor: '#000', borderWidth: 1.4,
  data: fSeries.flatMap(s => s.rows.flatMap((b, i) => [{ x: b[0], y: i + 1 + s.shift }, { x: b[4], y: i + 1 + s.shift }, { x: null, y: null }]))
});
new Chart(mount(1300, 600, 600, 1176), {
  type: 'scatter',
  data: { datasets: fDatasets },
  options: {
    layout: { autoPadding: false, padding: { top: 7.3, right: 13.5 } },
    scales: {
      x: {
        type: 'linear', min: -.028, max: .582,
        title: { display: true, text: 'Cell composition', color: '#000', font: { size: 19 }, padding: { top: 0, bottom: 9 } },
        grid: { drawOnChartArea: false, tickLength: 5, color: '#222', tickWidth: 1.5 },
        border: { color: '#111', width: 2 },
        afterFit: s => fixAxis(s, { height: 77 }),
        afterBuildTicks: s => { s.ticks = fTicks.map(v => ({ value: v })); },
        ticks: { autoSkip: false, minRotation: 45, maxRotation: 45, color: '#000', font: { size: 19 }, padding: 2, callback: v => v.toFixed(1) }
      },
      y: {
        type: 'linear', reverse: true, min: .41, max: 15.6, offset: false,
        grid: { drawOnChartArea: false, offset: false, tickLength: 5, color: '#222', tickWidth: 1.5 },
        border: { color: '#111', width: 2 },
        afterFit: s => fixAxis(s, { width: 280.7 }),
        afterBuildTicks: s => { s.ticks = fCells.map((_, i) => ({ value: i + 1 })); },
        ticks: {
          autoSkip: false, padding: 4,
          color: c => c.index === 6 ? '#E60000' : '#000',
          font: c => c.index === 6 ? { size: 22, weight: 'bold', style: 'italic' } : { size: 19 },
          callback: v => fCells[v - 1]
        }
      }
    }
  },
  plugins: [{
    id: 'fStars',
    afterDatasetsDraw(chart) {
      const { ctx, scales } = chart;
      ctx.save();
      ctx.fillStyle = '#000';
      ctx.font = '18px "Liberation Sans"';
      ctx.textAlign = 'center';
      ctx.textBaseline = 'middle';
      fStars.forEach((s, i) => {
        if (s) ctx.fillText(s, scales.x.getPixelForValue(.553), scales.y.getPixelForValue(i + 1) - 10);
      });
      ctx.restore();
    }
  }]
});
text('nmf_group', 1453.5, 564.6, 19);
[[1558, 1592.6, '#3B4992', 'Subtype1'], [1672, 1707, '#EE0000', 'Subtype2'], [1787, 1821.6, '#008B45', 'Subtype3']].forEach(k => {
  swatch(k[0], 557, 22, 15, k[2], { border: '1.4px solid #333', boxSizing: 'border-box' });
  swatch(k[0], 564, 22, 1.6, '#000');
  swatch(k[0] + 10.5, 553, 1.4, 4, '#000');
  swatch(k[0] + 10.5, 572, 1.4, 4, '#000');
  text(k[3], k[1], 564.6, 15.8);
});

// ---------- panel H ----------
const hSegments = [
  { label: timeNames[0], vals: hStable, colour: '#66A61E' },
  { label: timeNames[1], vals: hAdmission, colour: '#E7298A' },
  { label: timeNames[2], vals: hDischarge, colour: '#7570B3' },
  { label: timeNames[3], vals: hMonth1, colour: '#D95F02' },
  { label: timeNames[4], vals: hMonth6, colour: '#1B9E77' }
];
text('<span style="font-style:italic">\u03c7</span><span style="display:inline-block;vertical-align:middle;font-size:11.5px;line-height:10px;text-align:left">2<br>Pearson</span>(8) = 21.60, <i>p</i> = 5.72e\u221203, <i>V\u0302</i><sub>Cramer</sub> = 0.29, CI<sub>95%</sub> [0.00, 1.00], <i>n</i><sub>obs</sub> = 80', 677.5, 1193, 15.5);
const hTickIs10 = c => !!c.tick && c.tick.value % 10 === 0;
new Chart(mount(560, 1220, 700, 470), {
  type: 'bar',
  data: {
    datasets: hSegments.map(s => ({
      label: s.label,
      data: s.vals.map((v, i) => ({ x: i + 1, y: v })),
      backgroundColor: s.colour, borderColor: '#111', borderWidth: 1.6,
      barThickness: 172, clip: false, borderSkipped: false
    }))
  },
  options: {
    layout: { autoPadding: false, padding: { top: 10, right: 11 } },
    scales: {
      x: {
        type: 'linear', min: .4033, max: 3.597, stacked: true, offset: false,
        grid: { display: false, drawTicks: false, offset: false }, border: { display: false },
        afterFit: s => fixAxis(s, { height: 38 }),
        afterBuildTicks: s => { s.ticks = hCounts.map((_, i) => ({ value: i + 1 })); },
        ticks: { autoSkip: false, maxRotation: 0, color: '#000', font: { size: 17 }, padding: 11, callback: v => hCounts[v - 1] }
      },
      x2: {
        type: 'linear', position: 'bottom', min: .4033, max: 3.597, offset: false, weight: 2,
        grid: { drawOnChartArea: false, tickLength: 3.5, color: '#555', offset: false }, border: { display: false },
        afterFit: s => fixAxis(s, { height: 40.2 }),
        afterBuildTicks: s => { s.ticks = hSubtypes.map((_, i) => ({ value: i + 1 })); },
        ticks: { autoSkip: false, maxRotation: 0, color: '#4D4D4D', font: { size: 12.8 }, padding: 4, callback: v => hSubtypes[v - 1] }
      },
      y: {
        stacked: true, min: 0, max: 100,
        grid: {
          color: c => hTickIs10(c) ? '#E8E8E8' : '#F4F4F4',
          tickColor: c => hTickIs10(c) ? '#444' : 'rgba(0,0,0,0)',
          tickLength: 3.5
        },
        border: { display: false },
        afterFit: s => fixAxis(s, { width: 77.8 }),
        afterBuildTicks: s => { s.ticks = Array.from({ length: 21 }, (_, i) => ({ value: i * 5 })); },
        ticks: { autoSkip: false, color: '#4D4D4D', font: { size: 12.6 }, padding: 3.5, callback: v => v % 10 ? '' : v + '%' }
      }
    }
  },
  plugins: [{
    id: 'percentLabels',
    afterDatasetsDraw(chart) {
      const { ctx, scales } = chart;
      ctx.save();
      ctx.font = '17px "Liberation Sans"';
      ctx.textAlign = 'center';
      ctx.textBaseline = 'middle';
      hSubtypes.forEach((_, col) => {
        let floor = hSegments.reduce((sum, s) => sum + s.vals[col], 0);
        hSegments.slice().reverse().forEach(s => {
          const v = s.vals[col];
          floor -= v;
          if (!v) return;
          const label = Math.round(v) + '%';
          const px = scales.x.getPixelForValue(col + 1), py = scales.y.getPixelForValue(floor + v / 2);
          const w = ctx.measureText(label).width + 11, h = 25;
          ctx.beginPath();
          ctx.roundRect(px - w / 2, py - h / 2, w, h, 4);
          ctx.fillStyle = '#fff';
          ctx.fill();
          ctx.strokeStyle = '#333';
          ctx.lineWidth = 1;
          ctx.stroke();
          ctx.fillStyle = '#000';
          ctx.fillText(label, px, py + 1);
        });
      });
      ctx.restore();
    }
  }]
});
text('time', 626.5, 1700.7, 16, { fontWeight: 'bold' });
const hKeyBorder = { border: '1.6px solid #222', boxSizing: 'border-box' };
[
  [668, 1687, 703, hSegments[4]], [843, 1687, 877.5, hSegments[3]], [1011.7, 1687, 1046.4, hSegments[2]],
  [668, 1728.6, 703, hSegments[1]], [936, 1728.6, 970.4, hSegments[0]]
].forEach(k => {
  swatch(k[0], k[1], 26, 26, k[3].colour, hKeyBorder);
  text(k[3].label, k[2], k[1] + 13, 12.6);
});
</script>
</body>
</html>
